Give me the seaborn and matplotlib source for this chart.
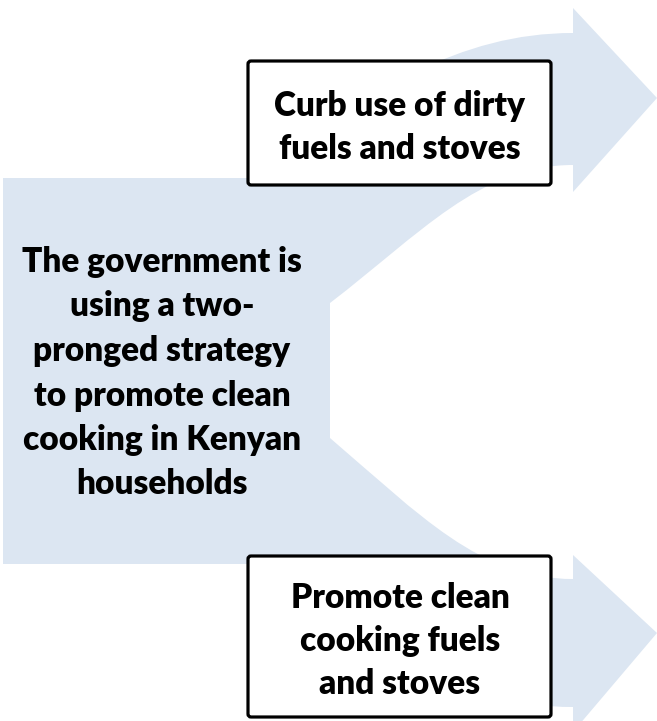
import matplotlib.pyplot as plt
import seaborn as sns
from matplotlib.path import Path
from matplotlib.patches import PathPatch, FancyBboxPatch, Rectangle

sns.set_theme(style="white")
plt.rcParams['font.family'] = ['Lato', 'DejaVu Sans']

# text of the three boxes
center_lines = ["The government is", "using a two-", "pronged strategy",
                "to promote clean", "cooking in Kenyan", "households"]
top_lines = ["Curb use of dirty", "fuels and stoves"]
bottom_lines = ["Promote clean", "cooking fuels", "and stoves"]

blue = "#DCE6F2"
fs = 24

fig = plt.figure(figsize=(6.57, 7.21), dpi=100)
ax = fig.add_axes([0, 0, 1, 1])
ax.set_xlim(0, 657)
ax.set_ylim(721, 0)
ax.axis('off')

M, L, C, Z = Path.MOVETO, Path.LINETO, Path.CURVE4, Path.CLOSEPOLY

# trunk block on the left
ax.add_patch(Rectangle((3, 178), 327, 386, fc=blue, ec='none'))

# upper curved arrow
up_verts = [(250, 178), (370, 90), (460, 33), (573, 33),
            (573, 8), (657, 98), (573, 192), (573, 165),
            (480, 165), (420, 234), (330, 303),
            (330, 178), (250, 178)]
up_codes = [M, C, C, C, L, L, L, L, C, C, C, L, Z]
ax.add_patch(PathPatch(Path(up_verts, up_codes), fc=blue, ec='none'))

# lower curved arrow
lo_verts = [(330, 438), (420, 515), (480, 579), (573, 579),
            (573, 555), (657, 633), (573, 732), (573, 707),
            (460, 707), (370, 650), (250, 564),
            (330, 564), (330, 438)]
lo_codes = [M, C, C, C, L, L, L, L, C, C, C, L, Z]
ax.add_patch(PathPatch(Path(lo_verts, lo_codes), fc=blue, ec='none'))

# white outlined boxes
for y0, h in [(61, 124), (556, 161)]:
    ax.add_patch(FancyBboxPatch((248, y0), 303, h,
                                boxstyle="round,pad=0,rounding_size=3",
                                fc='white', ec='black', lw=2.3))

def put_lines(lines, x, y0, step=44.5):
    for i, s in enumerate(lines):
        ax.text(x, y0 + i * step, s, ha='center', va='baseline',
                fontsize=fs, fontweight='heavy', color='black')

put_lines(center_lines, 162, 272)
put_lines(top_lines, 400, 116, 43)
put_lines(bottom_lines, 400, 608, 43)

fig.savefig("out.png", dpi=100)
